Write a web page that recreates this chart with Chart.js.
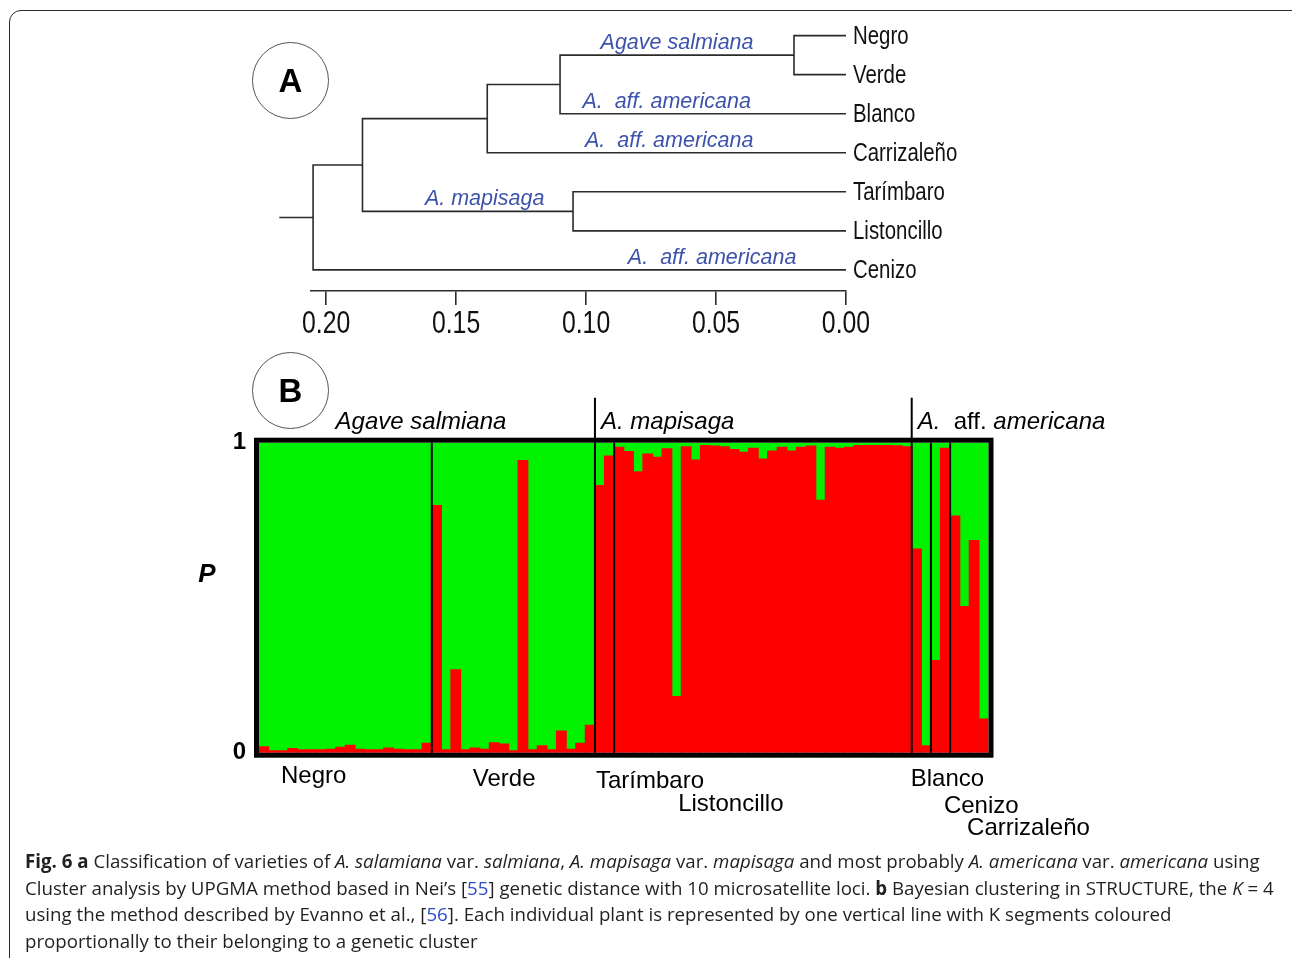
<!DOCTYPE html>
<html>
<head>
<meta charset="utf-8">
<script src="https://cdn.jsdelivr.net/npm/chart.js@4.4.1/dist/chart.umd.min.js"></script>
<style>
  html, body { margin: 0; padding: 0; background: #fff; overflow: hidden; }
  #page { position: relative; width: 1292px; height: 958px; overflow: hidden; }
  #frame { position: absolute; left: 9px; top: 10px; width: 1310px; height: 1000px;
           border: 1.5px solid #2a2a2a; border-radius: 12px; }
  .badge { position: absolute; box-sizing: border-box; width: 77px; height: 77px;
           border: 1px solid #555; border-radius: 50%; text-align: center;
           font: bold 33px "Liberation Sans", Arial, sans-serif; line-height: 76px; color: #000; }
  #dendro { position: absolute; left: 0; top: 0; }
  #structure { position: absolute; left: 0; top: 345px; }
  #caption { position: absolute; left: 25px; top: 848px; font-family: "Open Sans", sans-serif;
             font-size: 18.7px; line-height: 26.7px; color: #231f20; white-space: nowrap; }
  #caption a { color: #2c4bc7; text-decoration: none; }
</style>
</head>
<body>
<div id="page">
  <div id="frame"></div>
  <canvas id="dendro" width="1292" height="345" style="width:1292px;height:345px"></canvas>
  <canvas id="structure" width="1292" height="505" style="width:1292px;height:505px"></canvas>
  <div class="badge" style="left:252px;top:42px">A</div>
  <div class="badge" style="left:252px;top:352px">B</div>
  <div id="caption">
    <b>Fig. 6</b> <b>a</b> Classification of varieties of <i>A. salamiana</i> var. <i>salmiana</i>, <i>A. mapisaga</i> var. <i>mapisaga</i> and most probably <i>A. americana</i> var. <i>americana</i> using<br>
    Cluster analysis by UPGMA method based in Nei’s [<a>55</a>] genetic distance with 10 microsatellite loci. <b>b</b> Bayesian clustering in STRUCTURE, the <i>K</i> = 4<br>
    using the method described by Evanno et al., [<a>56</a>]. Each individual plant is represented by one vertical line with K segments coloured<br>
    proportionally to their belonging to a genetic cluster
  </div>
</div>
<script>
// ---- panel A: UPGMA dendrogram ----
const leafNames = ["Negro", "Verde", "Blanco", "Carrizaleño", "Tarímbaro", "Listoncillo", "Cenizo"];
// nodes 0-6 are the leaves, node 7+k is merge k
const mergeLeft = [0, 7, 8, 4, 9, 11];
const mergeRight = [1, 2, 3, 5, 10, 6];
const mergeHeight = [0.020, 0.110, 0.138, 0.105, 0.186, 0.205];
const rootStemEnd = 0.218;
const distanceTicks = [0.20, 0.15, 0.10, 0.05, 0.00];

// ---- panel B: STRUCTURE membership (red cluster share per plant) ----
const negro = [0.019, 0.006, 0.006, 0.013, 0.009, 0.009, 0.009, 0.011, 0.017, 0.024, 0.011, 0.009, 0.009, 0.015, 0.011, 0.009, 0.009, 0.030];
const verde = [0.797, 0.009, 0.267, 0.009, 0.015, 0.011, 0.032, 0.028, 0.006, 0.942, 0.009, 0.022, 0.009, 0.070, 0.011, 0.030, 0.088];
const tarimbaro = [0.862, 0.957];
const listoncillo = [0.985, 0.971, 0.906, 0.963, 0.953, 0.980, 0.181, 0.987, 0.944, 0.991, 0.989, 0.987, 0.978, 0.969, 0.982,
  0.947, 0.973, 0.985, 0.973, 0.985, 0.989, 0.814, 0.985, 0.982, 0.985, 0.991, 0.991, 0.991, 0.991, 0.990, 0.987];
const blanco = [0.657, 0.022];
const cenizo = [0.297, 0.982];
const carrizaleno = [0.763, 0.471, 0.684, 0.108];
const populations = ["Negro", "Verde", "Tarímbaro", "Listoncillo", "Blanco", "Cenizo", "Carrizaleño"];
const speciesPopCount = [2, 2, 3];
const pTicks = [0, 1];

const ARIAL = '"Liberation Sans", Arial, sans-serif';
const BLUE = "#3d52aa";

// condensed text (the original uses a narrow sans)
function narrowText(ctx, text, x, y, size, align) {
  ctx.save();
  ctx.font = size + "px " + ARIAL;
  ctx.fillStyle = "#111";
  ctx.textAlign = align;
  ctx.textBaseline = "middle";
  ctx.translate(x, y);
  ctx.scale(0.8, 1);
  ctx.fillText(text, 0, 0);
  ctx.restore();
}

// build dendrogram branches from the merge table
const nodeH = leafNames.map(() => 0);
const nodeY = leafNames.map((_, i) => i);
const branchSets = [];
mergeLeft.forEach((a, k) => {
  const b = mergeRight[k], h = mergeHeight[k];
  branchSets.push({
    data: [{x: nodeH[a], y: nodeY[a]}, {x: h, y: nodeY[a]}, {x: h, y: nodeY[b]}, {x: nodeH[b], y: nodeY[b]}]
  });
  nodeH.push(h);
  nodeY.push((nodeY[a] + nodeY[b]) / 2);
});
const root = nodeH.length - 1;
branchSets.push({ data: [{x: nodeH[root], y: nodeY[root]}, {x: rootStemEnd, y: nodeY[root]}] });
branchSets.forEach(d => Object.assign(d, {
  showLine: true, pointRadius: 0, borderColor: "#2b2b2b", borderWidth: 1.6, clip: false, tension: 0
}));

const dendroText = {
  id: "dendroText",
  afterDatasetsDraw(chart, args, opts) {
    const {ctx, chartArea: a, scales: {x, y}} = chart;
    ctx.save();
    ctx.fillStyle = BLUE;
    ctx.font = "italic 21.5px " + ARIAL;
    ctx.textAlign = "center";
    ctx.textBaseline = "alphabetic";
    opts.clades.forEach(it => ctx.fillText(it.text, x.getPixelForValue(it.x), y.getPixelForValue(it.y) - 6));
    ctx.restore();
    leafNames.forEach((name, i) => narrowText(ctx, name, x.getPixelForValue(0) + 7, y.getPixelForValue(i) + 1, 25.5, "left"));
    distanceTicks.forEach(v => narrowText(ctx, v.toFixed(2), x.getPixelForValue(v), a.bottom + 33, 31, "center"));
  }
};

new Chart(document.getElementById("dendro"), {
  type: "scatter",
  data: { datasets: branchSets },
  options: {
    responsive: false, animation: false,
    layout: { padding: { left: 311, top: 20, right: 446, bottom: 0 } },
    plugins: {
      legend: { display: false }, tooltip: { enabled: false },
      dendroText: { clades: [
        { text: "Agave salmiana", x: 0.065, y: 0.5 },
        { text: "A.  aff. americana", x: 0.069, y: 2 },
        { text: "A.  aff. americana", x: 0.068, y: 3 },
        { text: "A. mapisaga", x: 0.139, y: 4.5 },
        { text: "A.  aff. americana", x: 0.0515, y: 6 }
      ] }
    },
    scales: {
      x: {
        type: "linear", reverse: true, min: 0, max: 0.2058,
        afterBuildTicks: s => { s.ticks = distanceTicks.map(v => ({ value: v })); },
        afterFit: s => { s.height = 54; },
        ticks: { display: false },
        grid: { drawOnChartArea: false, tickLength: 14, color: "#2b2b2b", lineWidth: 1.6 },
        border: { color: "#2b2b2b", width: 1.6 }
      },
      y: { type: "linear", display: false, reverse: true, min: -0.4, max: 6.54 }
    }
  },
  plugins: [dendroText]
});

// ---- panel B chart ----
const groups = [negro, verde, tarimbaro, listoncillo, blanco, cenizo, carrizaleno];
const redShare = groups.flat();
const greenShare = redShare.map(v => 1 - v);
const plantIds = redShare.map((_, i) => String(i + 1));

const structureDecor = {
  id: "structureDecor",
  afterDatasetsDraw(chart, args, opts) {
    const {ctx, chartArea: a, scales: {x, y}} = chart;
    const n = redShare.length;
    const edge = i => i <= 0 ? a.left : i >= n ? a.right : (x.getPixelForValue(i - 1) + x.getPixelForValue(i)) / 2;
    const starts = [];
    let c = 0;
    groups.forEach(g => { starts.push(c); c += g.length; });
    const speciesStart = [];
    let p = 0;
    speciesPopCount.forEach(k => { speciesStart.push(p); p += k; });

    ctx.save();
    ctx.strokeStyle = "#000";
    ctx.lineWidth = 2;
    starts.slice(1).forEach((s, i) => {
      const px = edge(s);
      const tall = speciesStart.includes(i + 1);
      ctx.beginPath();
      ctx.moveTo(px, tall ? a.top - 45 : a.top);
      ctx.lineTo(px, a.bottom);
      ctx.stroke();
    });
    ctx.lineWidth = 5;
    ctx.strokeRect(a.left - 2.5, a.top - 2.5, a.right - a.left + 5, a.bottom - a.top + 5);

    // species names above the frame
    ctx.fillStyle = "#000";
    ctx.textBaseline = "alphabetic";
    ctx.textAlign = "left";
    const fontOf = st => (st === "i" ? "italic " : "") + "24px " + ARIAL;
    opts.species.forEach((parts, i) => {
      const s0 = edge(starts[speciesStart[i]]);
      const s1 = edge(i + 1 < speciesStart.length ? starts[speciesStart[i + 1]] : n);
      let w = 0;
      parts.forEach(([t, st]) => { ctx.font = fontOf(st); w += ctx.measureText(t).width; });
      let px = i === 0 ? (s0 + s1) / 2 - w / 2 - 6 : s0 + 6;
      parts.forEach(([t, st]) => {
        ctx.font = fontOf(st);
        ctx.fillText(t, px, a.top - 14);
        px += ctx.measureText(t).width;
      });
    });

    // population names under the frame
    ctx.font = "24px " + ARIAL;
    ctx.textBaseline = "middle";
    populations.forEach((name, i) => {
      const [dx, dy] = opts.popOffsets[i];
      ctx.fillText(name, edge(starts[i]) + dx, a.bottom + dy);
    });

    ctx.font = "italic bold 26px " + ARIAL;
    ctx.textAlign = "center";
    ctx.fillText("P", a.left - 52, y.getPixelForValue(0.573));
    ctx.restore();
  }
};

const barStyle = { borderWidth: 0, barPercentage: 1, categoryPercentage: 1, inflateAmount: 0.6 };

new Chart(document.getElementById("structure"), {
  type: "bar",
  data: {
    labels: plantIds,
    datasets: [
      Object.assign({ data: redShare, backgroundColor: "#fe0000" }, barStyle),
      Object.assign({ data: greenShare, backgroundColor: "#00f200" }, barStyle)
    ]
  },
  options: {
    responsive: false, animation: false,
    layout: { padding: { left: 0, top: 97.7, right: 303.5, bottom: 97.3 } },
    plugins: {
      legend: { display: false }, tooltip: { enabled: false },
      structureDecor: {
        species: [
          [["Agave salmiana", "i"]],
          [["A. mapisaga", "i"]],
          [["A.  ", "i"], ["aff. ", "n"], ["americana", "i"]]
        ],
        popOffsets: [[22, 24], [41, 27], [1, 29], [64, 52], [-1, 27], [13, 54], [17, 76]]
      }
    },
    scales: {
      x: { display: false, stacked: true },
      y: {
        stacked: true, min: 0, max: 1,
        afterBuildTicks: s => { s.ticks = pTicks.map(v => ({ value: v })); },
        afterFit: s => { s.width = 259; },
        ticks: { color: "#000", font: { family: ARIAL, size: 24, weight: "bold" }, padding: 5 },
        grid: { display: false }, border: { display: false }
      }
    }
  },
  plugins: [structureDecor]
});
</script>
</body>
</html>
